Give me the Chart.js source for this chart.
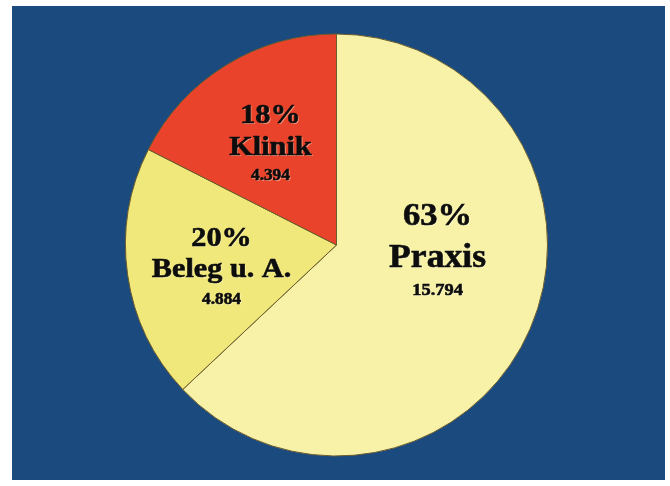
<!DOCTYPE html>
<html>
<head>
<meta charset="utf-8">
<script src="https://cdn.jsdelivr.net/npm/chart.js@4/dist/chart.umd.min.js"></script>
<style>
  html, body { margin: 0; padding: 0; background: #ffffff; }
  #wrap { position: relative; width: 670px; height: 486px; overflow: hidden; }
  #panel { position: absolute; left: 12px; top: 6px; right: 5px; bottom: 6px; background: #1b4a7e; }
  #chart { position: absolute; left: 0; top: 0; }
</style>
</head>
<body>
<div id="wrap">
  <div id="panel"></div>
  <canvas id="chart" width="670" height="486"></canvas>
</div>
<script>
// Verteilung nach Tätigkeitsbereich
const categories = ['Praxis', 'Beleg u. A.', 'Klinik'];
const counts = [15794, 4884, 4394];
const percentLabels = ['63%', '20%', '18%'];
const sliceColors = ['#f8f2a8', '#f0e87a', '#e9442b'];

// Label block per slice: anchor (name baseline) relative to the pie centre, in radius units,
// plus the baseline offsets and font sizes of the three text lines.
const labelLayout = [
  { at: [0.479, 0.104], rows: [-42, 0, 28], sizes: [32, 33, 17] },
  { at: [-0.545, 0.152], rows: [-31, 0, 27], sizes: [28, 28, 16] },
  { at: [-0.313, -0.427], rows: [-32, 0, 25], sizes: [28, 28, 16] }
];

const fmt = new Intl.NumberFormat('de-DE');

const sliceLabels = {
  id: 'sliceLabels',
  afterDatasetsDraw(chart) {
    const ctx = chart.ctx;
    const meta = chart.getDatasetMeta(0);
    meta.data.forEach((arc, i) => {
      const { x, y, outerRadius } = arc.getProps(['x', 'y', 'outerRadius'], true);
      const lay = labelLayout[i];
      const ax = x + lay.at[0] * outerRadius;
      const ay = y + lay.at[1] * outerRadius;
      const lines = [percentLabels[i], categories[i], fmt.format(counts[i])];
      lines.forEach((txt, k) => {
        ctx.save();
        ctx.translate(ax, ay + lay.rows[k]);
        ctx.scale(1.08, 1);
        ctx.textAlign = 'center';
        ctx.textBaseline = 'alphabetic';
        ctx.font = 'bold ' + lay.sizes[k] + 'px "Liberation Serif", "Times New Roman", serif';
        // faint light emboss behind the lettering
        ctx.fillStyle = 'rgba(255,255,235,0.45)';
        ctx.fillText(txt, 1, 1);
        ctx.fillStyle = '#0d0d0d';
        ctx.strokeStyle = '#0d0d0d';
        ctx.lineWidth = 0.6;
        ctx.fillText(txt, 0, 0);
        ctx.strokeText(txt, 0, 0);
        ctx.restore();
      });
    });
  }
};

new Chart(document.getElementById('chart'), {
  type: 'pie',
  data: {
    labels: categories,
    datasets: [{
      data: counts,
      backgroundColor: sliceColors,
      borderColor: '#6b5c2e',
      borderWidth: 1
    }]
  },
  options: {
    responsive: false,
    animation: false,
    radius: 211,
    layout: { padding: { left: 3, right: 0, top: 4, bottom: 0 } },
    plugins: {
      legend: { display: false },
      tooltip: { enabled: false }
    }
  },
  plugins: [sliceLabels]
});
</script>
</body>
</html>
